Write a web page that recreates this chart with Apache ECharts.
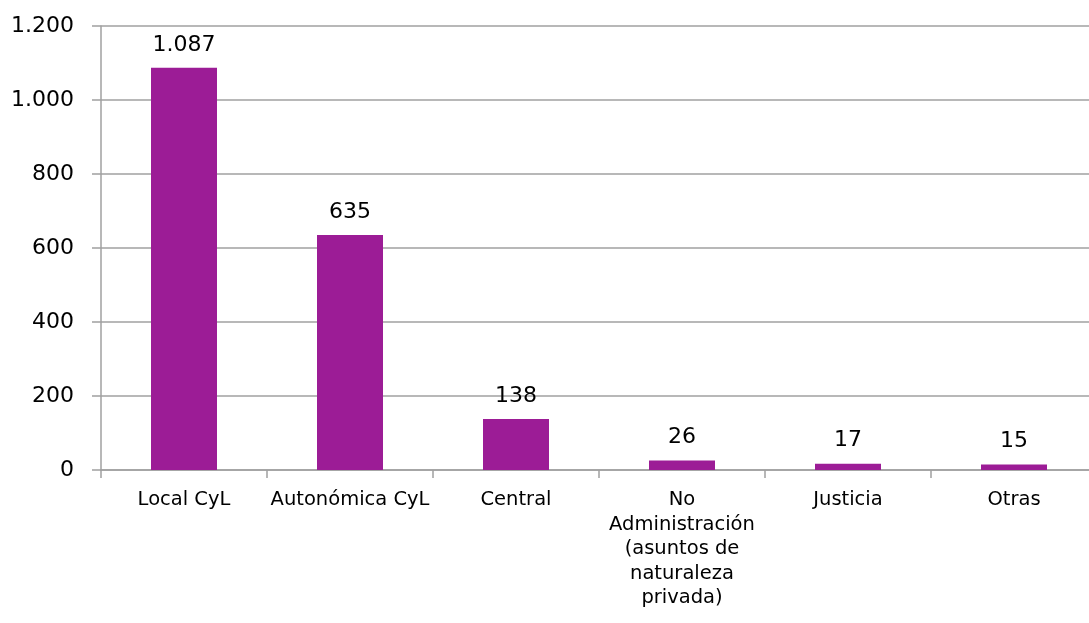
<!DOCTYPE html>
<html>
<head>
<meta charset="utf-8">
<script src="https://cdn.jsdelivr.net/npm/echarts@6/dist/echarts.min.js"></script>
<style>
  html, body { margin: 0; padding: 0; background: #fff; overflow: hidden; }
  /* the original plot runs a little past the right edge of the picture */
  #chart { width: 1097px; height: 623px; }
</style>
</head>
<body>
<div id="chart"></div>
<script>
// categories and values
const categories = [
  "Local CyL",
  "Autonómica CyL",
  "Central",
  "No\nAdministración\n(asuntos de\nnaturaleza\nprivada)",
  "Justicia",
  "Otras"
];
const values = [1087, 635, 138, 26, 17, 15];
const yTicks = [0, 200, 400, 600, 800, 1000, 1200];

// spanish style thousands separator
function fmt(v) {
  return String(v).replace(/\B(?=(\d{3})+(?!\d))/g, ".");
}

const chart = echarts.init(document.getElementById("chart"));
const font = "DejaVu Sans";

chart.setOption({
  animation: false,
  grid: { left: 101, top: 26, right: 0, height: 444, containLabel: false },
  xAxis: {
    type: "category",
    data: categories,
    axisLine: { lineStyle: { color: "#a0a0a0", width: 1.5 } },
    axisTick: { show: true, length: 8, alignWithLabel: false, lineStyle: { color: "#a0a0a0", width: 1.5 } },
    axisLabel: {
      interval: 0,
      margin: 18,
      color: "#000",
      fontFamily: font,
      fontSize: 19.5,
      lineHeight: 24.5
    }
  },
  yAxis: {
    type: "value",
    min: yTicks[0],
    max: yTicks[yTicks.length - 1],
    interval: 200,
    axisLine: { show: true, lineStyle: { color: "#a0a0a0", width: 1.5 } },
    axisTick: { show: true, length: 9, lineStyle: { color: "#a0a0a0", width: 1.5 } },
    splitLine: { show: true, lineStyle: { color: "#a0a0a0", width: 1.5 } },
    axisLabel: {
      margin: 27,
      color: "#000",
      fontFamily: font,
      fontSize: 22,
      formatter: fmt
    }
  },
  series: [{
    type: "bar",
    data: values,
    barWidth: 66,
    itemStyle: { color: "#9c1c96" },
    label: {
      show: true,
      position: "top",
      distance: 12,
      color: "#000",
      fontFamily: font,
      fontSize: 22,
      formatter: (p) => fmt(p.value)
    }
  }]
});
</script>
</body>
</html>
